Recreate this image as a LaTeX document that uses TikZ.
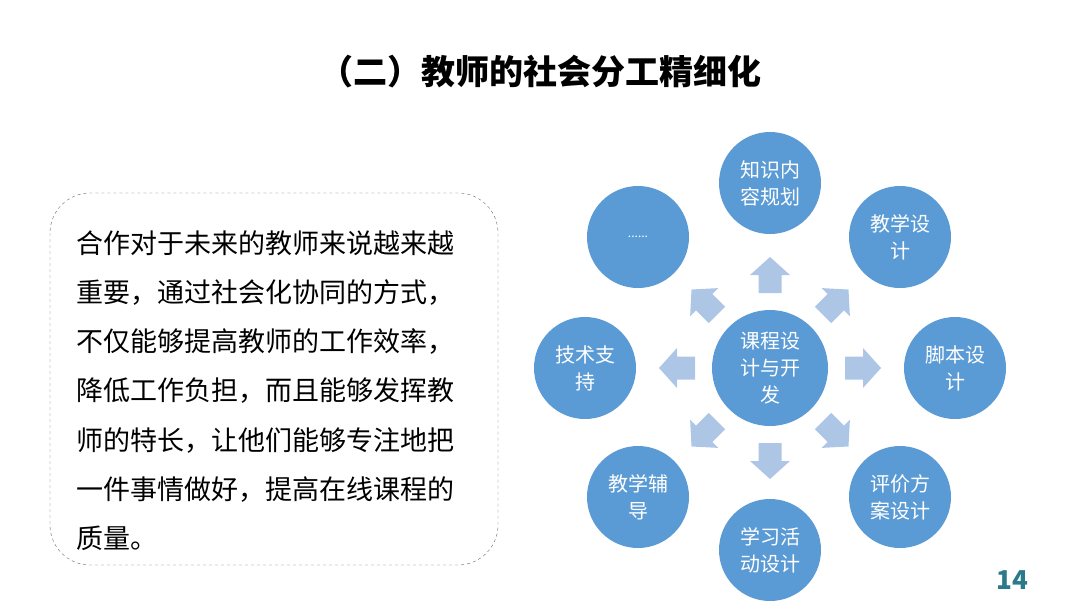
\documentclass[tikz,border=0pt]{standalone}
\usepackage{fontspec}
\setmainfont{Noto Sans CJK SC}
\begin{document}
\begin{tikzpicture}[x=1pt,y=-1pt,
  circ/.style={circle,fill=cblue,text=white,font=\fontsize{20}{27}\selectfont,align=center,inner sep=0pt},
  line/.style={anchor=base west,font=\fontsize{27}{30}\selectfont,inner sep=0pt}]
\definecolor{cblue}{HTML}{5B9BD5}
\definecolor{ablue}{HTML}{AEC6E6}
\definecolor{teal}{HTML}{2B7A8A}
\useasboundingbox (0,0) rectangle (1080,608);
\node (title) at (540,72) {\fontsize{34}{40}\selectfont\bfseries （二）教师的社会分工精细化};
\draw[dashed,rounded corners=40,gray!80!black] (50,193) rectangle (498,565);
\foreach \t [count=\i] in {合作对于未来的教师来说越来越,重要，通过社会化协同的方式，,不仅能够提高教师的工作效率，,降低工作负担，而且能够发挥教,师的特长，让他们能够专注地把,一件事情做好，提高在线课程的,质量。}
  \node[line] (l\i) at (76,{243+10+(\i-1)*49.3}) {\t};
\node[circ,minimum size=116] (c) at (770,368) {课程设\\计与开\\发};
\foreach \x/\y/\n/\t in {770/183/n/知识内\\容规划,900/237/ne/教学设\\计,955/368/e/脚本设\\计,900/497/se/评价方\\案设计,770/550/s/学习活\\动设计,638/497/sw/教学辅\\导,585/368/w/技术支\\持,638/237/nw/{\fontsize{12}{14}\selectfont ......}}
  \node[circ,minimum size=102] (\n) at (\x,\y) {\t};
\foreach \a in {-90,-45,0,45,90,135,180,-135}{
  \begin{scope}[shift={(c.center)},rotate=\a]
    \fill[ablue] (75,-11.5) -- (93,-11.5) -- (93,-20) -- (111,0) -- (93,20) -- (93,11.5) -- (75,11.5) -- cycle;
  \end{scope}
}
\node[text=teal,font=\fontsize{26}{30}\selectfont\bfseries] (pg) at (1012,580) {14};
\end{tikzpicture}
\end{document}
